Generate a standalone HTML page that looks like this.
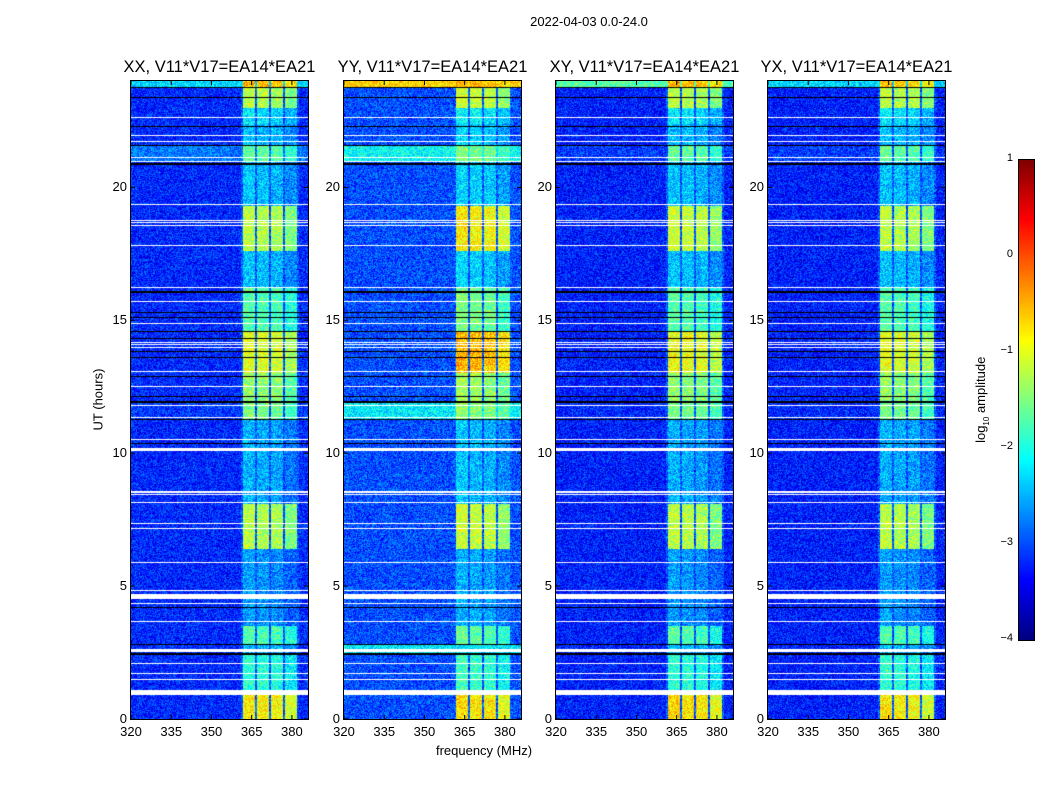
<!DOCTYPE html>
<html><head><meta charset="utf-8">
<style>
body{margin:0;background:#fff;width:1050px;height:800px;overflow:hidden;position:relative;font-family:"Liberation Sans","DejaVu Sans",sans-serif;color:#000}
.t{position:absolute;white-space:nowrap}
canvas{position:absolute}
</style></head><body>
<div class="t" style="left:489px;top:14px;width:200px;text-align:center;font-size:13px">2022-04-03 0.0-24.0</div>
<div id="root"></div>
<div class="t" style="left:48px;top:392px;width:100px;text-align:center;font-size:13px;transform:rotate(-90deg)">UT (hours)</div>
<div class="t" style="left:384px;top:743px;width:200px;text-align:center;font-size:13px">frequency (MHz)</div>
<div class="t" style="left:922px;top:391px;width:120px;text-align:center;font-size:13px;transform:rotate(-90deg)">log<sub style="font-size:8px">10</sub> amplitude</div>
<canvas id="cb" width="15" height="480" style="left:1019px;top:160px;border:1px solid #000;width:15px;height:480px;box-sizing:content-box;margin-left:-1px;margin-top:-1px"></canvas>
<script>
const panelTitles=["XX, V11*V17=EA14*EA21","YY, V11*V17=EA14*EA21","XY, V11*V17=EA14*EA21","YX, V11*V17=EA14*EA21"];
const xTicks=[320,335,350,365,380];
const yTicks=[0,5,10,15,20];
const cbTicks=[1,0,-1,-2,-3,-4];
const bandLo=[361.8,367.0,372.2,377.5];
const bandHi=[366.3,371.5,376.7,381.9];
const bandOffset=[0.1,0.05,0.0,-0.2];
const segStart=[0,0.95,2.5,2.8,3.5,6.4,8.1,11.3,11.9,13.0,14.6,16.2,17.6,19.3,21.0,21.6,22.4,23.0,23.75];
const segEnd=[0.95,2.5,2.8,3.5,6.4,8.1,11.3,11.9,13.0,14.6,16.2,17.6,19.3,21.0,21.6,22.4,23.0,23.75,24];
const bandXX=[-0.9,-2.0,-2.5,-1.8,-2.7,-1.3,-2.6,-1.6,-1.5,-1.1,-1.8,-2.5,-1.3,-2.5,-1.7,-2.5,-2.3,-1.3,-0.6];
const bandYY=[-0.8,-1.9,-2.3,-1.7,-2.6,-1.2,-2.5,-1.5,-1.4,-0.6,-1.6,-2.4,-0.9,-2.4,-1.6,-2.4,-2.2,-1.2,-0.6];
const bandXY=[-0.8,-2.0,-2.5,-1.8,-2.7,-1.3,-2.6,-1.6,-1.5,-1.0,-1.8,-2.5,-1.2,-2.5,-1.7,-2.5,-2.3,-1.3,-0.6];
const bandYX=[-0.9,-2.0,-2.5,-1.8,-2.7,-1.3,-2.6,-1.6,-1.5,-1.1,-1.8,-2.5,-1.3,-2.5,-1.7,-2.5,-2.3,-1.3,-0.7];
const bgXX=[-3.2,-3.2,-3.2,-3.2,-3.2,-3.2,-3.2,-3.1,-3.2,-3.2,-3.2,-3.2,-3.2,-3.2,-2.8,-3.2,-3.2,-3.2,-2.3];
const bgYY=[-3.0,-3.0,-2.2,-3.0,-3.0,-3.0,-3.0,-2.2,-3.0,-3.0,-3.0,-3.0,-3.0,-3.0,-2.1,-3.0,-3.0,-3.0,-0.7];
const bgXY=[-3.25,-3.25,-3.25,-3.25,-3.25,-3.25,-3.25,-3.2,-3.25,-3.25,-3.25,-3.25,-3.25,-3.25,-3.1,-3.25,-3.25,-3.25,-1.7];
const bgYX=[-3.25,-3.25,-3.25,-3.25,-3.25,-3.25,-3.25,-3.2,-3.25,-3.25,-3.25,-3.25,-3.25,-3.25,-3.1,-3.25,-3.25,-3.25,-2.3];
const whiteFlags=[22.61,21.94,21.71,21.11,20.96,19.34,18.77,18.66,18.55,17.83,16.25,15.72,14.89,14.18,14.07,13.96,13.09,12.49,11.78,11.36,10.50,10.12,8.54,8.43,8.13,7.37,7.15,5.87,4.82,4.59,4.33,3.65,2.56,2.07,1.73,1.47,0.98];
const whiteWidth=[1,1,1,1,1,1,1,1,1,1,1,1,1,1,1,1,1,1,1,1,1,3,2,1,1,1,1,1,1,5,1,1,3,1,1,1,5];
const blackFlags=[23.75,23.37,22.30,21.56,20.88,16.06,15.31,15.09,14.56,14.33,13.81,13.58,12.87,12.12,11.93,11.89,11.25,10.38,4.70,4.21,2.82,2.45];
const blackWidth=[1,1,1,1,2,2,1,1,1,1,1,1,1,1,1,1,1,1,1,1,1,2];
const bandSets=[bandXX,bandYY,bandXY,bandYX];
const bgSets=[bgXX,bgYY,bgXY,bgYX];

const panelLeft=[131,344,556,768], PW=177, PT=81, PH=638;
const fmin=320,fmax=386,tmin=0,tmax=24,vmin=-4,vmax=1;
const fx=f=>(f-fmin)/(fmax-fmin)*PW;
const ty=t=>PH-(t-tmin)/(tmax-tmin)*PH;
function jet(v){let x=(v-vmin)/(vmax-vmin);x=Math.max(0,Math.min(1,x));
 const c=t=>Math.max(0,Math.min(1,1.5-Math.abs(4*x-t)));
 return [c(3)*255,c(2)*255,c(1)*255];}
function hash(a,b,c){let h=(a*374761393+b*668265263+c*2147483647)|0;h=(h^(h>>>13))*1274126177|0;return ((h^(h>>>16))>>>0)/4294967295;}
const root=document.getElementById('root');
for(let p=0;p<4;p++){
 const L=panelLeft[p];
 const cv=document.createElement('canvas');
 
 
 cv.width=PW;cv.height=PH;cv.style.left=L+'px';cv.style.top=PT+'px';
 root.appendChild(cv);
 const ctx=cv.getContext('2d');const img=ctx.createImageData(PW,PH);
 const bands=bandSets[p],bgs=bgSets[p];
 for(let y=0;y<PH;y++){
  const t=tmax-(y+0.5)/PH*(tmax-tmin);
  let s=0;for(let i=0;i<segStart.length;i++){if(t>=segStart[i]&&t<segEnd[i]){s=i;break;}}
  for(let x=0;x<PW;x++){
   const f=fmin+(x+0.5)/PW*(fmax-fmin);
   let v=bgs[s];
   for(let b=0;b<bandLo.length;b++){if(f>=bandLo[b]&&f<bandHi[b]){v=Math.max(v,bands[s]+bandOffset[b]);}}
   if(f>=361&&f<382.5&&v<bands[s]) v=Math.max(v,-2.95);
   v+= (hash(x,y,p)-0.5)*0.9;
   const c=jet(v);const k=(y*PW+x)*4;
   img.data[k]=c[0];img.data[k+1]=c[1];img.data[k+2]=c[2];img.data[k+3]=255;
  }
 }
 ctx.putImageData(img,0,0);
 for(let i=0;i<blackFlags.length;i++){ctx.fillStyle='#000';ctx.fillRect(0,Math.round(ty(blackFlags[i])-blackWidth[i]/2),PW,blackWidth[i]);}
 for(let i=0;i<whiteFlags.length;i++){ctx.fillStyle='#fff';ctx.fillRect(0,Math.round(ty(whiteFlags[i])-whiteWidth[i]/2),PW,whiteWidth[i]);}
 const svgNS='http://www.w3.org/2000/svg';
 const sv=document.createElementNS(svgNS,'svg');
 
 
 sv.setAttribute('width',PW+2);sv.setAttribute('height',PH+2);
 sv.style.position='absolute';sv.style.left=(L-1)+'px';sv.style.top=(PT-1)+'px';
 let h='<rect x="0.5" y="0.5" width="'+(PW+1)+'" height="'+(PH+1)+'" fill="none" stroke="#000"/>';
 xTicks.forEach(v=>{const X=fx(v)+1;h+='<line x1="'+X+'" x2="'+X+'" y1="'+(PH+1)+'" y2="'+(PH-3)+'" stroke="#000"/><line x1="'+X+'" x2="'+X+'" y1="1" y2="5" stroke="#000"/>';});
 yTicks.forEach(v=>{const Y=ty(v)+1;h+='<line x1="1" x2="5" y1="'+Y+'" y2="'+Y+'" stroke="#000"/><line x1="'+(PW+1)+'" x2="'+(PW-3)+'" y1="'+Y+'" y2="'+Y+'" stroke="#000"/>';});
 sv.innerHTML=h;root.appendChild(sv);
 const tt=document.createElement('div');tt.className='t';
 
 
 tt.style.cssText='left:'+(L-40)+'px;top:58px;width:'+(PW+80)+'px;text-align:center;font-size:16.5px';
 tt.textContent=panelTitles[p];root.appendChild(tt);
 xTicks.forEach(v=>{const d=document.createElement('div');d.className='t';
  
  
  d.style.cssText='left:'+(L+fx(v)-20)+'px;top:724px;width:40px;text-align:center;font-size:13px';
  d.textContent=v;root.appendChild(d);});
 yTicks.forEach(v=>{const d=document.createElement('div');d.className='t';
  
  
  d.style.cssText='left:'+(L-44)+'px;top:'+(PT+ty(v)-8)+'px;width:40px;text-align:right;font-size:13px';
  d.textContent=v;root.appendChild(d);});
}
const cb=document.getElementById('cb').getContext('2d');
for(let y=0;y<480;y++){const v=vmax-(y+0.5)/480*(vmax-vmin);const c=jet(v);cb.fillStyle='rgb('+c.map(Math.round).join(',')+')';cb.fillRect(0,y,15,1);}
cbTicks.forEach(v=>{const Y=160+(vmax-v)/(vmax-vmin)*480;const d=document.createElement('div');d.className='t';
 
 
 d.style.cssText='left:973px;top:'+(Y-8)+'px;width:40px;text-align:right;font-size:11px';
 d.textContent=(v<0?'\u2212'+(-v):v);root.appendChild(d);});
</script>
</body></html>
